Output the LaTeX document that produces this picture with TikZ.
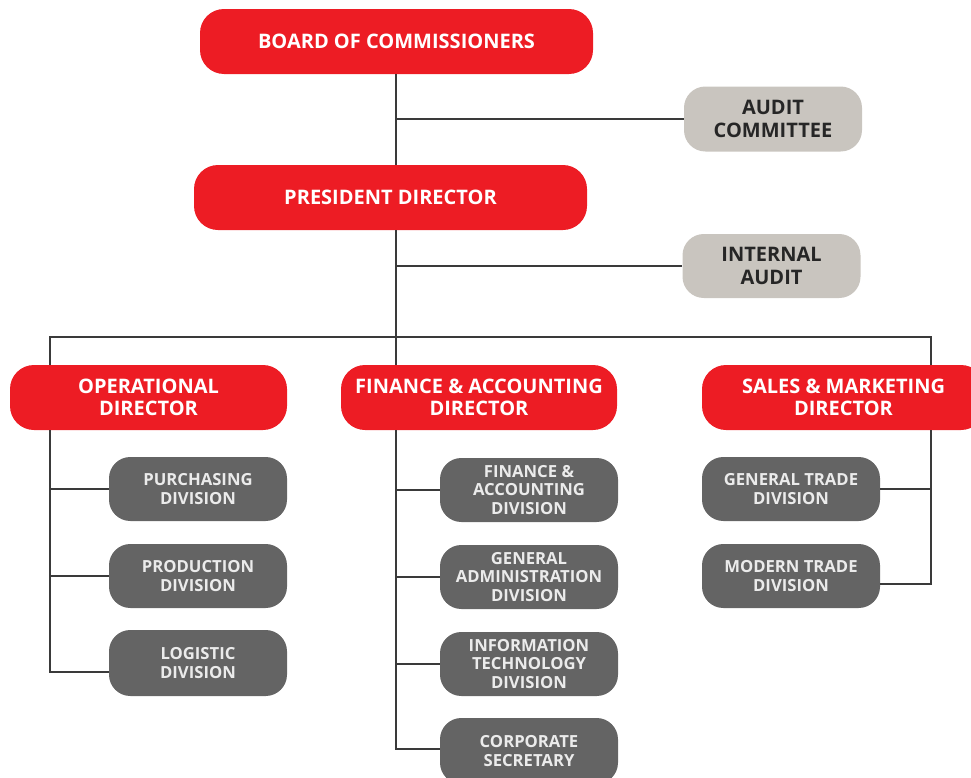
\documentclass[tikz,border=0pt]{standalone}
\usepackage{fontspec}
\setmainfont{Open Sans}
\definecolor{cred}{HTML}{ED1C24}
\definecolor{cdark}{HTML}{646464}
\definecolor{clight}{HTML}{C9C5BF}
\definecolor{cline}{HTML}{3A3A3A}
\begin{document}
\begin{tikzpicture}[x=0.75pt,y=-0.75pt,
  base/.style={inner sep=0pt, align=center, font=\bfseries},
  redbox/.style={base, fill=cred, text=white, rounded corners=18pt,
    font=\fontsize{15}{16.8}\selectfont\bfseries, minimum height=48.75pt},
  graybox/.style={base, fill=cdark, text=white!92!black, rounded corners=16pt,
    font=\fontsize{12.5}{14.2}\selectfont\bfseries, minimum width=133.5pt, minimum height=48pt},
  lightbox/.style={base, fill=clight, text=black!85, rounded corners=16pt,
    font=\fontsize{15}{16.8}\selectfont\bfseries, minimum width=133.5pt, minimum height=48.75pt},
  conn/.style={draw=cline, line width=1.1pt}]
\useasboundingbox (0,0) rectangle (971,778);
% top level
\node[redbox, minimum width=294.75pt] (board) at (396.5,41.5) {BOARD OF COMMISSIONERS};
\node[redbox, minimum width=294.75pt] (pres) at (390.5,197.5) {PRESIDENT DIRECTOR};
\node[lightbox] (audcom) at (773,119) {AUDIT\\COMMITTEE};
\node[lightbox, minimum height=48pt] (intaud) at (771.5,266) {INTERNAL\\AUDIT};
% directors
\node[redbox, minimum width=207.75pt] (opdir) at (148.5,397.5) {OPERATIONAL\\DIRECTOR};
\node[redbox, minimum width=207pt] (findir) at (479,397.5) {FINANCE \& ACCOUNTING\\DIRECTOR};
\node[redbox, minimum width=212.25pt] (saldir) at (843.5,397.5) {SALES \& MARKETING\\DIRECTOR};
% divisions
\node[graybox] (purch) at (198,489) {PURCHASING\\DIVISION};
\node[graybox] (prod) at (198,576) {PRODUCTION\\DIVISION};
\node[graybox, minimum height=49.5pt] (logi) at (198,663) {LOGISTIC\\DIVISION};
\node[graybox] (fadiv) at (529,490) {FINANCE \&\\ACCOUNTING\\DIVISION};
\node[graybox] (gadiv) at (529,577) {GENERAL\\ADMINISTRATION\\DIVISION};
\node[graybox] (itdiv) at (529,664) {INFORMATION\\TECHNOLOGY\\DIVISION};
\node[graybox, minimum height=49.5pt] (corsec) at (529,751) {CORPORATE\\SECRETARY};
\node[graybox] (gtdiv) at (791,489) {GENERAL TRADE\\DIVISION};
\node[graybox] (mtdiv) at (791,576) {MODERN TRADE\\DIVISION};
% junction coordinates
\coordinate (ptop) at (396,230);
\coordinate (hmid) at (396,337);
\coordinate (hl) at (50,337);
\coordinate (hr) at (931,337);
\coordinate (fdtop) at (396,365);
\coordinate (fdbot) at (396,430);
\coordinate (odtop) at (50,365);
\coordinate (odbot) at (50,430);
\coordinate (sdtop) at (931,365);
\coordinate (sdbot) at (931,430);
\coordinate (jlogi) at (50,672);
\coordinate (jcor) at (396,749);
\coordinate (jmt) at (931,584);
% connectors
\draw[conn] (board.south -| ptop) -- (pres.north -| ptop);
\draw[conn] (audcom.west -| ptop) -- (audcom.west);
\draw[conn] (intaud.west -| ptop) -- (intaud.west);
\draw[conn] (ptop) -- (fdtop);
\draw[conn] (odtop) -- (hl) -- (hr) -- (sdtop);
% operational
\draw[conn] (odbot) -- (jlogi) -- (jlogi -| logi.west);
\draw[conn] (purch.west -| odbot) -- (purch.west);
\draw[conn] (prod.west -| odbot) -- (prod.west);
% finance
\draw[conn] (fdbot) -- (jcor) -- (jcor -| corsec.west);
\draw[conn] (fadiv.west -| fdbot) -- (fadiv.west);
\draw[conn] (gadiv.west -| fdbot) -- (gadiv.west);
\draw[conn] (itdiv.west -| fdbot) -- (itdiv.west);
% sales
\draw[conn] (sdbot) -- (jmt) -- (jmt -| mtdiv.east);
\draw[conn] (gtdiv.east -| sdbot) -- (gtdiv.east);
\end{tikzpicture}
\end{document}
